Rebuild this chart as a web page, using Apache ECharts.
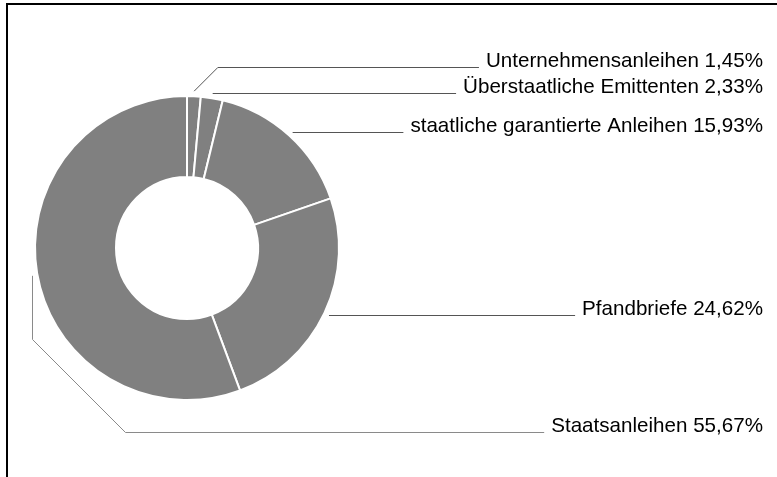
<!DOCTYPE html>
<html><head><meta charset="utf-8">
<script src="https://cdn.jsdelivr.net/npm/echarts@6/dist/echarts.min.js"></script>
<style>html,body{margin:0;padding:0;background:#fff}#c{width:777px;height:477px}</style>
</head><body><div id="c"></div>
<script>
const categories = ['Unternehmensanleihen', 'Überstaatliche Emittenten', 'staatliche garantierte Anleihen', 'Pfandbriefe', 'Staatsanleihen'];
const shares = [1.45, 2.33, 15.93, 24.62, 55.67];

// layout constants (style, not data)
const CX = 187, CY = 248, R_IN = 71, R_OUT = 152;
const LINE_R = R_OUT + 5, LABEL_RIGHT = 763, LABEL_GAP = 7, MIN_SPACING = 26;
const WRAP_Y_FACTOR = 1.21, WRAP_DIAG = 93;

const total = shares.reduce((a, b) => a + b, 0);
function midAngle(i) {
  let s = 0;
  for (let k = 0; k < i; k++) s += shares[k];
  return (s + shares[i] / 2) / total * 2 * Math.PI;
}
const starts = shares.map((v, i) => {
  const a = midAngle(i);
  return [CX + LINE_R * Math.sin(a), CY - LINE_R * Math.cos(a)];
});
const labelYs = starts.map(p => p[1]);
const rightIdx = shares.map((v, i) => i).filter(i => starts[i][0] >= CX)
  .sort((a, b) => starts[b][1] - starts[a][1]);
for (let k = 1; k < rightIdx.length; k++) {
  const prev = labelYs[rightIdx[k - 1]];
  if (labelYs[rightIdx[k]] > prev - MIN_SPACING) labelYs[rightIdx[k]] = prev - MIN_SPACING;
}
const crisp = v => Math.round(v) + 0.5;

const chart = echarts.init(document.getElementById('c'), null, { renderer: 'canvas' });
chart.setOption({
  animation: false,
  backgroundColor: '#fff',
  graphic: [{
    type: 'rect',
    shape: { x: 7, y: 4, width: 900, height: 600 },
    style: { fill: 'none', stroke: '#000', lineWidth: 2 },
    silent: true
  }],
  series: [{
    type: 'pie',
    center: [CX, CY],
    radius: [R_IN, R_OUT],
    startAngle: 90,
    clockwise: true,
    avoidLabelOverlap: false,
    silent: true,
    itemStyle: { color: '#808080', borderColor: '#fff', borderWidth: 2 },
    label: {
      show: true,
      position: 'outside',
      color: '#000',
      fontFamily: 'Liberation Sans, Arial, sans-serif',
      fontSize: 20.6,
      formatter: p => p.name + ' ' + p.value.toFixed(2).replace('.', ',') + '%'
    },
    labelLine: { show: true, length: 10, length2: 10, smooth: false, lineStyle: { color: '#555', width: 1 } },
    labelLayout: function (p) {
      const i = p.dataIndex;
      const s = starts[i];
      const endX = LABEL_RIGHT - p.labelRect.width - LABEL_GAP;
      let y, pts;
      if (s[0] >= CX) {
        y = crisp(labelYs[i]);
        const dy = s[1] - y;
        if (dy > 1) pts = [[s[0], s[1]], [s[0] + dy, y], [endX, y]];
        else pts = [[s[0], y], [s[0], y], [endX, y]];
      } else {
        y = crisp(CY + R_OUT * WRAP_Y_FACTOR);
        const x0 = crisp(s[0]);
        pts = [[x0, s[1]], [x0, y - WRAP_DIAG], [x0 + WRAP_DIAG, y], [endX, y]];
      }
      return { x: LABEL_RIGHT, y: y - 6, align: 'right', verticalAlign: 'middle', labelLinePoints: pts };
    },
    data: categories.map((n, i) => ({
      name: n, value: shares[i],
      labelLine: i === 4 ? { lineStyle: { color: '#8a8a8a' } } : undefined
    }))
  }]
});
</script>
</body></html>
